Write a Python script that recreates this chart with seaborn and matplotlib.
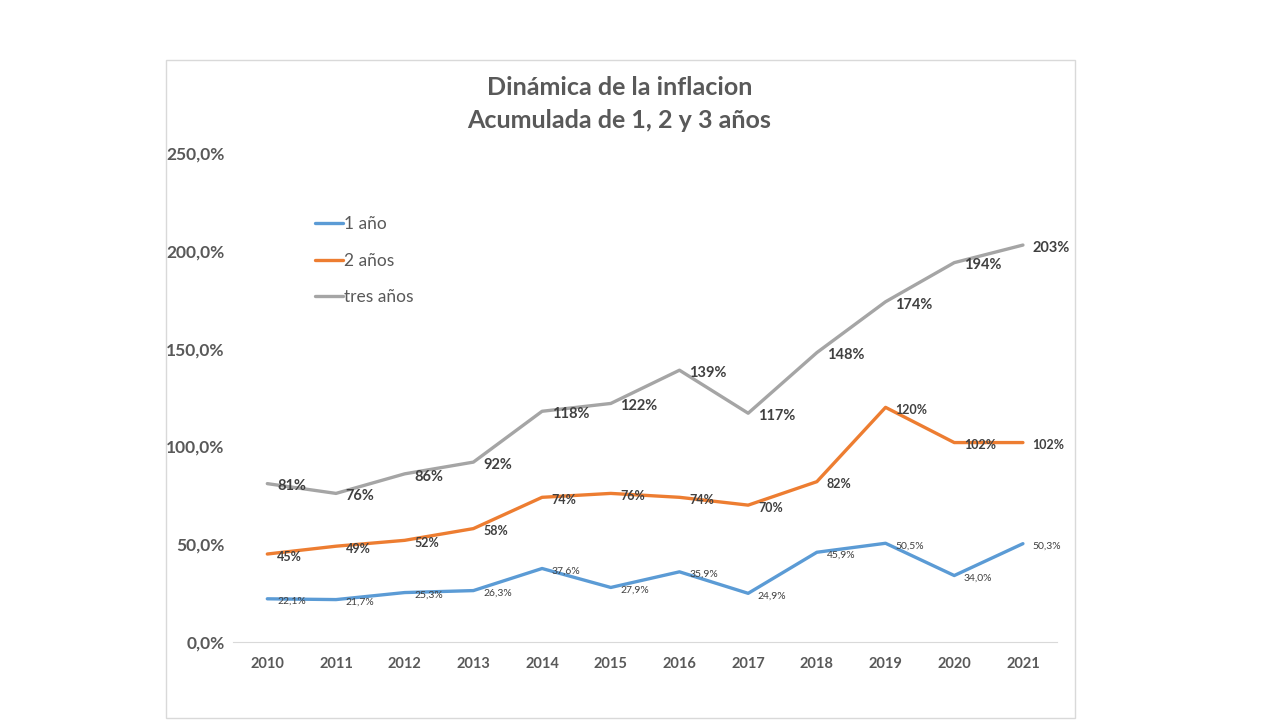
import pandas as pd
import seaborn as sns
import matplotlib.pyplot as plt
from matplotlib.patches import Rectangle

years = [2010, 2011, 2012, 2013, 2014, 2015, 2016, 2017, 2018, 2019, 2020, 2021]
one_year = [22.1, 21.7, 25.3, 26.3, 37.6, 27.9, 35.9, 24.9, 45.9, 50.5, 34.0, 50.3]
two_years = [45, 49, 52, 58, 74, 76, 74, 70, 82, 120, 102, 102]
three_years = [81, 76, 86, 92, 118, 122, 139, 117, 148, 174, 194, 203]
series_names = ['1 año', '2 años', 'tres años']
colors = ['#5B9BD5', '#ED7D31', '#A5A5A5']

df = pd.DataFrame({
    'year': years * 3,
    'value': one_year + two_years + three_years,
    'serie': [series_names[0]] * 12 + [series_names[1]] * 12 + [series_names[2]] * 12,
})

sns.set_style('white')
plt.rcParams['font.family'] = ['Lato', 'DejaVu Sans']
text_col = '#595959'

fig = plt.figure(figsize=(12.8, 7.2), dpi=100)
fig.patches.append(Rectangle((166 / 1280, 1 - 718 / 720), (1075 - 166) / 1280, (718 - 60) / 720,
                             transform=fig.transFigure, fill=False, edgecolor='#D9D9D9', lw=1))
ax = fig.add_axes([0.182, 0.1083, 0.644, 0.679])

sns.lineplot(data=df, x='year', y='value', hue='serie', palette=colors, linewidth=2.4, ax=ax)

# data labels, right of each point
label_style = {
    series_names[0]: dict(size=7.5, weight='normal', fmt=lambda v: f'{v:.1f}%'.replace('.', ',')),
    series_names[1]: dict(size=9, weight='bold', fmt=lambda v: f'{v:.0f}%'),
    series_names[2]: dict(size=10.5, weight='bold', fmt=lambda v: f'{v:.0f}%'),
}
for name, vals in zip(series_names, [one_year, two_years, three_years]):
    st = label_style[name]
    for x, v in zip(years, vals):
        ax.annotate(st['fmt'](v), (x, v), xytext=(7, -2), textcoords='offset points',
                    ha='left', va='center', fontsize=st['size'], fontweight=st['weight'], color='#404040')

ax.set_xlim(2009.5, 2021.5)
ax.set_ylim(0, 250)
ax.set_xticks(years)
ax.set_xticklabels([str(y) for y in years], fontsize=10.5, fontweight='bold', color=text_col)
ax.set_yticks([0, 50, 100, 150, 200, 250])
ax.set_yticklabels([f'{t:.1f}%'.replace('.', ',') for t in [0, 50, 100, 150, 200, 250]],
                   fontsize=12.5, fontweight='bold', color=text_col)
ax.tick_params(axis='y', pad=6, length=0)
ax.tick_params(axis='x', pad=11, length=0)
ax.set_xlabel('')
ax.set_ylabel('')
for s in ['top', 'right', 'left']:
    ax.spines[s].set_visible(False)
ax.spines['bottom'].set_color('#D9D9D9')

ax.legend(loc='upper left', bbox_to_anchor=(0.091, 0.886), frameon=False, fontsize=12.5,
          labelcolor=text_col, handlelength=1.6, handletextpad=0.1, labelspacing=1.2,
          borderaxespad=0)

fig.text(0.484, 0.879, 'Dinámica de la inflacion', ha='center', va='center',
         fontsize=18, fontweight='bold', color=text_col)
fig.text(0.484, 0.833, 'Acumulada de 1, 2 y 3 años', ha='center', va='center',
         fontsize=18, fontweight='bold', color=text_col)

fig.savefig('out.png', dpi=100)
